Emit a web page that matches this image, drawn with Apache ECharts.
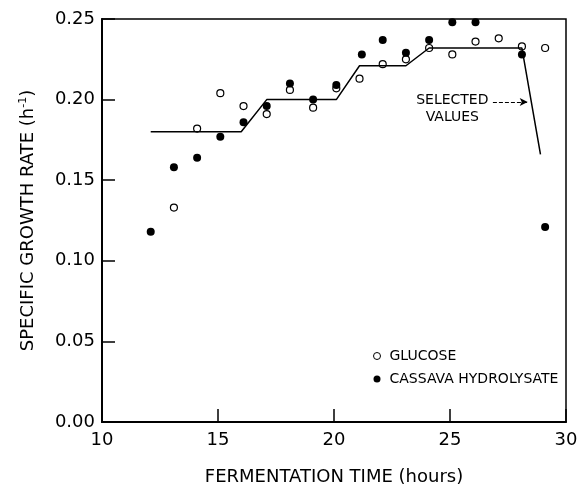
<!DOCTYPE html>
<html>
<head>
<meta charset="utf-8">
<script src="https://cdn.jsdelivr.net/npm/echarts@6/dist/echarts.min.js"></script>
<style>
  html, body { margin: 0; padding: 0; background: #fff; }
  #chart { width: 581px; height: 494px; }
</style>
</head>
<body>
<div id="chart"></div>
<script>
// glucose (open circles)
var glucoseTime = [13.1, 14.1, 15.1, 16.1, 17.1, 18.1, 19.1, 20.1, 21.1, 22.1, 23.1, 24.1, 25.1, 26.1, 27.1, 28.1, 29.1];
var glucoseRate = [0.133, 0.182, 0.204, 0.196, 0.191, 0.206, 0.195, 0.207, 0.213, 0.222, 0.225, 0.232, 0.228, 0.236, 0.238, 0.233, 0.232];

// cassava hydrolysate (filled circles)
var cassavaTime = [12.1, 13.1, 14.1, 15.1, 16.1, 17.1, 18.1, 19.1, 20.1, 21.2, 22.1, 23.1, 24.1, 25.1, 26.1, 28.1, 29.1];
var cassavaRate = [0.118, 0.158, 0.164, 0.177, 0.186, 0.196, 0.210, 0.200, 0.209, 0.228, 0.237, 0.229, 0.237, 0.248, 0.248, 0.228, 0.121];

// selected values (step line)
var selectedTime = [12.1, 16.0, 17.1, 20.1, 21.1, 23.1, 24.1, 28.1, 28.9];
var selectedRate = [0.180, 0.180, 0.200, 0.200, 0.221, 0.221, 0.232, 0.232, 0.166];

var xTicks = [10, 15, 20, 25, 30];
var yTicks = [0, 0.05, 0.10, 0.15, 0.20, 0.25];

function zip(a, b) {
  return a.map(function (v, i) { return [v, b[i]]; });
}

var font = 'DejaVu Sans';
var chart = echarts.init(document.getElementById('chart'));

chart.setOption({
  backgroundColor: '#fff',
  animation: false,
  textStyle: { fontFamily: font, color: '#000' },
  grid: {
    left: 102,
    right: 15,
    top: 19,
    bottom: 72,
    show: true,
    borderColor: '#000',
    borderWidth: 1.5
  },
  legend: {
    orient: 'vertical',
    left: 368,
    top: 344,
    itemWidth: 7,
    itemHeight: 7,
    itemGap: 9,
    textStyle: { fontFamily: font, fontSize: 14, color: '#000', padding: [0, 0, 0, 4] },
    data: [
      { name: 'GLUCOSE', icon: 'circle', itemStyle: { borderWidth: 1 } },
      { name: 'CASSAVA HYDROLYSATE', icon: 'circle' }
    ]
  },
  xAxis: {
    type: 'value',
    min: xTicks[0],
    max: xTicks[xTicks.length - 1],
    interval: 5,
    name: 'FERMENTATION TIME (hours)',
    nameLocation: 'middle',
    nameGap: 46,
    nameTextStyle: { fontFamily: font, fontSize: 18, color: '#000' },
    axisLine: { lineStyle: { color: '#000', width: 2 } },
    axisTick: { inside: true, length: 13, lineStyle: { color: '#000', width: 1.5 } },
    axisLabel: { fontFamily: font, fontSize: 18, color: '#000', margin: 9 },
    splitLine: { show: false }
  },
  yAxis: {
    type: 'value',
    min: yTicks[0],
    max: yTicks[yTicks.length - 1],
    interval: 0.05,
    name: '{a|SPECIFIC GROWTH RATE (h}{s|-1}{a|)}',
    nameLocation: 'middle',
    nameGap: 64,
    nameTextStyle: {
      rich: {
        a: { fontFamily: font, fontSize: 18, color: '#000' },
        s: { fontFamily: font, fontSize: 11, color: '#000', verticalAlign: 'top', padding: [0, 0, 9, 0] }
      }
    },
    axisLine: { lineStyle: { color: '#000', width: 2 } },
    axisTick: { inside: true, length: 13, lineStyle: { color: '#000', width: 1.5 } },
    axisLabel: {
      fontFamily: font,
      fontSize: 18,
      color: '#000',
      margin: 7,
      formatter: function (v) { return v.toFixed(2); }
    },
    splitLine: { show: false }
  },
  series: [
    {
      name: 'SELECTED VALUES',
      type: 'line',
      data: zip(selectedTime, selectedRate),
      showSymbol: false,
      symbol: 'none',
      lineStyle: { color: '#000', width: 1.5 },
      markPoint: {
        symbol: 'circle',
        symbolSize: 0,
        label: {
          show: true,
          position: 'inside',
          fontFamily: font,
          fontSize: 14,
          lineHeight: 17,
          color: '#000',
          align: 'center',
          formatter: 'SELECTED\nVALUES'
        },
        data: [{ coord: [25.1, 0.1945] }]
      },
      markLine: {
        silent: true,
        symbol: ['none', 'arrow'],
        symbolSize: [6, 8],
        label: { show: false },
        lineStyle: { color: '#000', width: 1, type: 'dashed' },
        data: [[{ coord: [26.85, 0.1985] }, { coord: [28.35, 0.1985] }]]
      }
    },
    {
      name: 'GLUCOSE',
      type: 'scatter',
      data: zip(glucoseTime, glucoseRate),
      symbol: 'circle',
      symbolSize: 7,
      itemStyle: { color: '#fff', borderColor: '#000', borderWidth: 1.2, opacity: 1 }
    },
    {
      name: 'CASSAVA HYDROLYSATE',
      type: 'scatter',
      data: zip(cassavaTime, cassavaRate),
      symbol: 'circle',
      symbolSize: 8,
      itemStyle: { color: '#000', opacity: 1 }
    }
  ]
});
</script>
</body>
</html>
